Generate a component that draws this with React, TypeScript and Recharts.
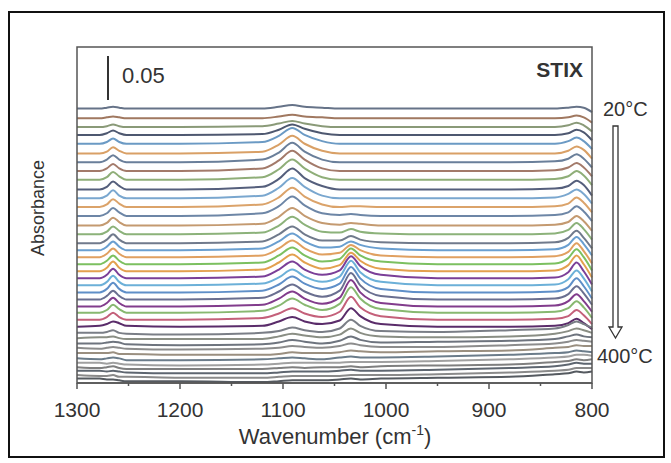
import { Line, LineChart, XAxis, YAxis } from 'recharts';

// wavenumber grid (cm-1) shared by all spectra
const WAVENUMBERS = [1300, 1278, 1271, 1265, 1259, 1252, 1200, 1120, 1104, 1091, 1079, 1062, 1045, 1034, 1025, 1005, 950, 880, 836, 823, 815, 808, 800];

const TEMPERATURES = [20, 30, 40, 50, 60, 70, 80, 90, 100, 110, 120, 130, 140, 150, 160, 170, 180, 190, 200, 210, 220, 230, 240, 250, 260, 270, 280, 290, 300, 310, 320, 330, 340, 350, 360, 370, 380, 390, 400];

// absorbance relative to each spectrum's baseline, in mAU
const t20 = [0, 0, 1, 2, 1, 0, 0, 0, 2, 4, 2, 1, 0, 0, 0, 0, 0, 0, 0, 1, 2, 1, -4];
const t30 = [0, 0, 1, 2, 1, 0, 0, 0, 2, 4, 2, 1, 0, 0, 0, 0, 0, 0, 0, 1, 3, 1, -5];
const t40 = [0, 0, 1, 3, 1, 0, 0, 1, 4, 7, 4, 1, 0, 0, 0, 0, 0, 0, 0, 2, 5, 2, -5];
const t50 = [0, 0, 2, 5, 2, 0, 0, 1, 6, 12, 7, 2, 0, 0, 0, 0, 0, 0, 0, 2, 6, 3, -6];
const t60 = [0, 0, 2, 6, 2, 0, 0, 2, 9, 18, 10, 3, 0, 0, 0, 0, 0, 0, 0, 3, 7, 3, -6];
const t70 = [0, 0, 2, 7, 3, 0, 0, 2, 10, 20, 11, 3, 0, 0, 0, 0, 0, 0, 0, 3, 8, 4, -6];
const t80 = [0, 0, 3, 8, 3, 0, 0, 3, 11, 22, 12, 3, 0, 0, 0, 0, 0, 0, 1, 4, 9, 4, -6];
const t90 = [0, 0, 3, 8, 3, 0, 0, 3, 12, 23, 13, 3, 0, 0, 0, 0, 0, 0, 1, 4, 9, 4, -6];
const t100 = [0, 0, 3, 9, 4, 0, 0, 3, 12, 23, 13, 3, 0, 0, 0, 0, 0, 0, 1, 4, 10, 5, -6];
const t110 = [0, 0, 3, 9, 4, 0, 0, 3, 12, 24, 13, 4, 0, 0, 0, 0, 0, 0, 1, 4, 10, 5, -7];
const t120 = [0, 0, 3, 9, 3, 0, 0, 3, 12, 23, 13, 3, 0, 0, 0, 0, 0, 0, 1, 5, 10, 5, -6];
const t130 = [0, 0, 3, 9, 4, 0, 0, 3, 11, 22, 12, 3, 0, 1, 1, 0, 0, 0, 1, 4, 11, 5, -6];
const t140 = [0, 0, 3, 9, 4, 0, 0, 3, 11, 22, 12, 3, 1, 2, 1, 0, 0, 0, 1, 4, 11, 5, -6];
const t150 = [0, 0, 3, 9, 4, 0, 0, 2, 10, 20, 11, 3, 1, 3, 2, 0, 0, 0, 1, 4, 11, 5, -6];
const t160 = [0, 0, 3, 9, 4, 0, 0, 2, 10, 20, 11, 3, 2, 6, 3, 1, 0, 0, 1, 5, 13, 6, -6];
const t170 = [0, 0, 4, 10, 4, 0, 0, 2, 10, 19, 10, 3, 3, 8, 4, 1, 0, 0, 1, 6, 14, 6, -6];
const t180 = [0, 0, 4, 10, 4, 0, 0, 2, 10, 19, 10, 3, 4, 10, 6, 2, 0, 0, 1, 6, 15, 7, -6];
const t190 = [0, 0, 4, 10, 4, 0, 0, 2, 10, 19, 10, 3, 5, 14, 8, 2, 0, 0, 1, 6, 16, 7, -7];
const t200 = [0, 0, 4, 10, 4, 0, 0, 2, 10, 19, 10, 3, 6, 18, 10, 3, 0, 0, 1, 7, 17, 8, -7];
const t210 = [0, 0, 4, 11, 4, 0, 0, 2, 10, 19, 10, 3, 7, 21, 12, 3, 0, 0, 1, 7, 18, 8, -7];
const t220 = [0, 0, 4, 11, 4, 0, 0, 2, 10, 19, 10, 4, 9, 25, 14, 4, 0, 0, 1, 7, 18, 8, -7];
const t230 = [0, 0, 4, 11, 4, 0, 0, 2, 9, 18, 10, 4, 10, 28, 15, 4, 0, 0, 1, 7, 17, 8, -7];
const t240 = [0, 0, 4, 11, 4, 0, 0, 2, 9, 18, 10, 4, 10, 29, 16, 4, 0, 0, 1, 6, 16, 7, -7];
const t250 = [0, 0, 4, 10, 4, 0, 0, 2, 9, 17, 9, 3, 10, 30, 16, 4, 0, 0, 1, 6, 15, 7, -6];
const t260 = [0, 0, 4, 10, 4, 0, 0, 2, 9, 17, 9, 3, 10, 30, 16, 4, 0, 0, 1, 6, 14, 6, -6];
const t270 = [0, 0, 3, 9, 4, 0, 0, 2, 8, 16, 9, 3, 10, 29, 16, 4, 0, 0, 1, 5, 13, 6, -6];
const t280 = [0, 0, 3, 8, 3, 0, 0, 2, 7, 13, 7, 3, 9, 26, 14, 4, 0, 0, 1, 4, 11, 5, -5];
const t290 = [0, 1, 3, 6, 4, 1, 0, 1, 6, 11, 6, 3, 7, 21, 12, 3, 0, 0, 1, 4, 9, 4, -3];
const t300 = [0, 0, 1, 3, 0, -1, -2, 0, 2, 6, 3, 1, 5, 15, 8, 2, 1, 3, 5, 9, 13, 10, 6];
const t310 = [0, 1, 1, 2, 0, -1, -1, -1, 2, 5, 3, 1, 4, 11, 6, 2, 1, 2, 5, 8, 11, 9, 6];
const t320 = [0, 0, 1, 2, 1, -1, -2, -1, 1, 4, 2, 0, 3, 8, 4, 1, 2, 3, 5, 8, 10, 8, 7];
const t330 = [0, -1, 0, 1, 0, -1, -2, -1, 0, 2, 1, 0, 2, 5, 3, 1, 1, 3, 5, 7, 9, 8, 7];
const t340 = [0, 0, 0, 1, -1, -1, -2, -2, -1, 1, 0, 0, 1, 3, 2, 1, 2, 3, 6, 7, 9, 8, 8];
const t350 = [0, -1, 0, 1, 0, -2, -2, -1, 0, 1, 0, -1, 1, 2, 1, 1, 2, 4, 6, 7, 9, 8, 7];
const t360 = [0, 0, -1, 0, -1, -2, -3, -2, -1, 0, 0, 0, 0, 1, 1, 1, 2, 4, 6, 7, 9, 9, 8];
const t370 = [0, -1, 0, 1, -1, -2, -2, -2, -1, 0, -1, 0, 0, 1, 0, 1, 2, 3, 6, 7, 9, 8, 9];
const t380 = [0, 0, -1, 0, -1, -2, -3, -3, -2, -1, -1, -1, 0, 1, 0, 0, 1, 3, 5, 7, 9, 8, 8];
const t390 = [0, -1, -1, 0, -2, -2, -3, -3, -2, -1, -1, -1, -1, 0, 0, 0, 1, 3, 5, 6, 8, 8, 8];
const t400 = [0, 0, -1, -1, -2, -3, -3, -4, -3, -2, -2, -2, -1, 0, -1, 0, 1, 2, 5, 6, 8, 7, 8];

const SPECTRA = [t20, t30, t40, t50, t60, t70, t80, t90, t100, t110, t120, t130, t140, t150, t160, t170, t180, t190, t200, t210, t220, t230, t240, t250, t260, t270, t280, t290, t300, t310, t320, t330, t340, t350, t360, t370, t380, t390, t400];

// vertical stacking offset of each spectrum (mAU)
const OFFSETS = [312, 301, 291, 282, 272, 261, 251, 241, 231, 220, 210, 200, 190, 179, 169, 159, 151, 143, 135, 127, 119, 111, 103, 95, 87, 80, 72, 64, 57, 51, 45, 40, 34, 28, 23, 18, 14, 9, 5];

const COLORS = [
  '#667388', '#a07860', '#8a9a78', '#4e5870', '#6b9ac4', '#d9a066', '#6a7f9a', '#a37a6a',
  '#8fae78', '#555f7c', '#7aa7cf', '#dba36a', '#6d86a6', '#c49a70', '#8cb27a', '#707a8c',
  '#6a9fd0', '#e0a060', '#7cc060', '#e3a04f', '#7b3f98', '#6cb0d8', '#5f8fc8', '#6a6f90',
  '#823c8c', '#88b870', '#c4607a', '#5a2c6a', '#7a7e86', '#8a8e84', '#6e747e', '#8c8c8c',
  '#9a8f80', '#6b7c8a', '#a0a0a0', '#7f7f7f', '#5e6670', '#8a8a8a', '#555a60',
];

const X_TICKS = [1300, 1250, 1200, 1150, 1100, 1050, 1000, 950, 900, 850, 800];

const data = WAVENUMBERS.map((wn, j) => {
  const row: Record<string, number> = { wn };
  SPECTRA.forEach((s, i) => {
    row[`t${TEMPERATURES[i]}`] = OFFSETS[i] + s[j];
  });
  return row;
});

const FONT = 'Arial, "Liberation Sans", Helvetica, sans-serif';

function WnTick({ x, y, payload }: any) {
  const major = payload.value % 100 === 0;
  return (
    <g>
      <line x1={x} x2={x} y1={y} y2={y + (major ? 6 : 3)} stroke="#555" strokeWidth={1.5} />
      {major && (
        <text x={x} y={y + 34} textAnchor="middle" fontSize={21} fill="#333" fontFamily={FONT}>
          {payload.value}
        </text>
      )}
    </g>
  );
}

export default function App() {
  return (
    <div style={{ position: 'absolute', left: 0, top: 0, width: 671, height: 463, background: 'white' }}>
      <LineChart width={671} height={463} data={data} margin={{ top: 47, right: 79, left: 77, bottom: 30 }}>
        <XAxis
          dataKey="wn"
          type="number"
          domain={[800, 1300]}
          reversed
          ticks={X_TICKS}
          interval={0}
          tick={<WnTick />}
          tickLine={false}
          tickSize={0}
          tickMargin={0}
          height={50}
          axisLine={{ stroke: '#555', strokeWidth: 1.5 }}
        />
        <YAxis yAxisId="left" domain={[0, 382]} allowDataOverflow hide />
        {TEMPERATURES.map((t, i) => (
          <Line
            key={t}
            yAxisId="left"
            type="monotone"
            dataKey={`t${t}`}
            stroke={COLORS[i]}
            strokeWidth={2}
            dot={false}
            isAnimationActive={false}
          />
        ))}
      </LineChart>
      <svg
        width={671}
        height={463}
        style={{ position: 'absolute', left: 0, top: 0, pointerEvents: 'none' }}
        fontFamily={FONT}
      >
        <rect x={9} y={12} width={655} height={445} fill="none" stroke="#111" strokeWidth={2} />
        <rect x={77} y={47} width={515} height={336} fill="none" stroke="#555" strokeWidth={1.5} />
        <line x1={108} x2={108} y1={56} y2={100} stroke="#333" strokeWidth={2} />
        <text x={122} y={83} fontSize={22} fill="#333">0.05</text>
        <text x={583} y={77} fontSize={21} fontWeight="bold" fill="#333" textAnchor="end">STIX</text>
        <text x={603} y={116} fontSize={20} fill="#333">20°C</text>
        <text x={597} y={363} fontSize={20} fill="#333">400°C</text>
        <polygon
          points="613,126 618,126 618,327 622,327 615.5,338 609,327 613,327"
          fill="white"
          stroke="#333"
          strokeWidth={1.3}
        />
        <text
          x={0}
          y={0}
          fontSize={18}
          fill="#333"
          textAnchor="middle"
          transform="translate(44 208) rotate(-90)"
        >
          Absorbance
        </text>
        <text x={335} y={444} fontSize={22} fill="#333" textAnchor="middle">
          Wavenumber (cm<tspan dy={-9} fontSize={14}>-1</tspan><tspan dy={9}>)</tspan>
        </text>
      </svg>
    </div>
  );
}
